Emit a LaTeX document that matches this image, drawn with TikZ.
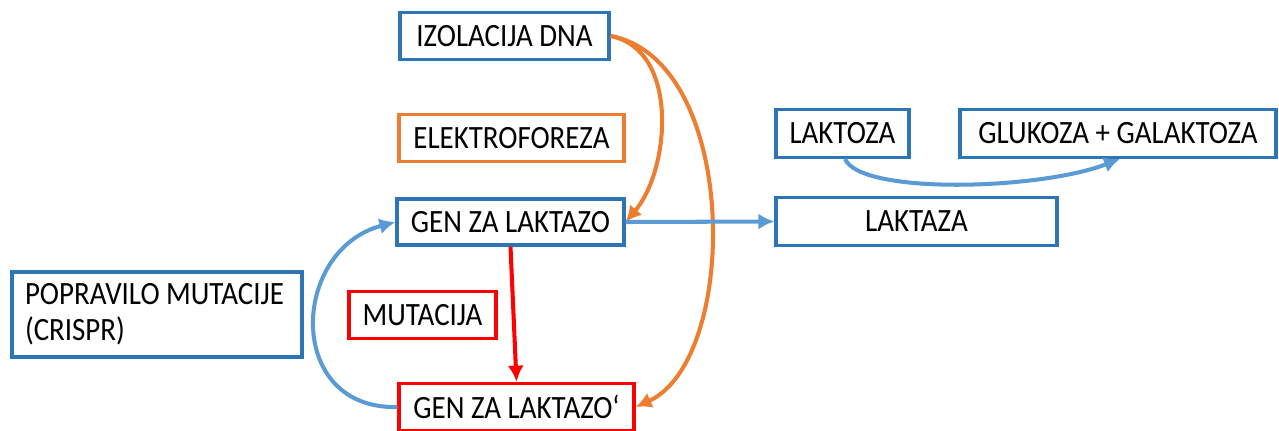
\documentclass[tikz,border=0pt]{standalone}
\usepackage{fontspec}
\setmainfont{Carlito}[FakeStretch=0.89]
\usetikzlibrary{arrows.meta}
\definecolor{boxblue}{HTML}{2E75B6}
\definecolor{arrblue}{HTML}{5B9BD5}
\definecolor{arrorange}{HTML}{ED7D31}
\definecolor{arrred}{HTML}{FF0000}

\begin{document}
\begin{tikzpicture}[x=0.02cm, y=-0.02cm,
  box/.style={draw=boxblue, line width=1.8pt, minimum height=0.95cm, inner sep=0pt, align=center, font=\fontsize{18.5}{20.5}\selectfont},
  obox/.style={box, draw=arrorange},
  rbox/.style={box, draw=arrred},
  blu/.style={draw=arrblue, line width=2.3pt, -{Latex[length=3.2mm, width=3.2mm]}},
  ora/.style={draw=arrorange, line width=2.3pt, -{Latex[length=3.2mm, width=3.2mm]}},
  rd/.style={draw=arrred, line width=2.3pt, -{Latex[length=3.2mm, width=3.2mm]}}
]
\useasboundingbox (0,0) rectangle (1279,430);

\node[box, minimum width=4.18cm] (izol) at (504.5,36) {IZOLACIJA DNA};
\node[obox, minimum width=4.5cm] (elek) at (511.5,138) {ELEKTROFOREZA};
\node[box, minimum width=4.54cm, minimum height=0.92cm] (gen) at (510.5,222) {GEN ZA LAKTAZO};
\node[rbox, minimum width=2.94cm] (mut) at (422.5,315) {MUTACIJA};
\node[rbox, minimum width=4.7cm] (genm) at (516.5,407) {GEN ZA LAKTAZO‘};
\node[box, minimum width=5.8cm, minimum height=1.7cm, text width=5.28cm, align=flush left] (crispr) at (157,314.5) {POPRAVILO MUTACIJE\\(CRISPR)};
\node[box, minimum width=2.66cm] (laktoza) at (842.5,133.5) {LAKTOZA};
\node[box, minimum width=6.32cm] (glukoza) at (1118,133.5) {GLUKOZA + GALAKTOZA};
\node[box, minimum width=5.62cm] (laktaza) at (916.5,221.5) {LAKTAZA};

\draw[ora] (izol.east) .. controls (680,50) and (670,170) .. (gen.east);
\draw[ora] (izol.east) .. controls (740,60) and (740,360) .. (genm.east);
\draw[blu] (gen.east) -- (laktaza.west);
\draw[rd] (gen.south) -- (genm.north);
\draw[blu] (genm.west) .. controls (285,410) and (290,250) .. (gen.west);
\draw[blu] ([xshift=0.05cm]laktoza.south) .. controls (860,195) and (1040,190) .. ([xshift=0.04cm]glukoza.south);

\end{tikzpicture}
\end{document}
